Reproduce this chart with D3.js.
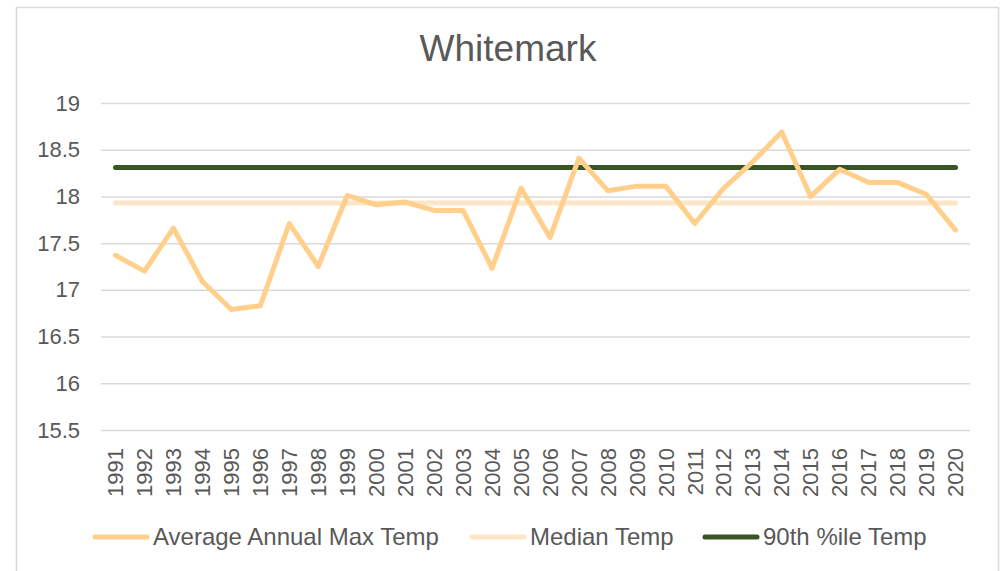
<!DOCTYPE html>
<html>
<head>
<meta charset="utf-8">
<script src="https://cdn.jsdelivr.net/npm/d3@7"></script>
<style>
  body { margin: 0; background: #fff; }
  text { font-family: "Liberation Sans", Arial, sans-serif; fill: #595959; }
</style>
</head>
<body>
<div id="chart"></div>
<script>
const w = 1004, h = 571;

const years = ['1991','1992','1993','1994','1995','1996','1997','1998','1999','2000',
  '2001','2002','2003','2004','2005','2006','2007','2008','2009','2010',
  '2011','2012','2013','2014','2015','2016','2017','2018','2019','2020'];
const avgMax = [17.37, 17.20, 17.66, 17.09, 16.79, 16.83, 17.71, 17.25, 18.01, 17.91,
  17.94, 17.85, 17.85, 17.23, 18.09, 17.56, 18.41, 18.06, 18.11, 18.11,
  17.71, 18.09, 18.37, 18.69, 18.00, 18.29, 18.15, 18.15, 18.02, 17.64];
const medianTemp = 17.93;
const p90Temp = 18.31;
const yTicks = [15.5, 16, 16.5, 17, 17.5, 18, 18.5, 19];

const seriesNames = ['Average Annual Max Temp', 'Median Temp', '90th %ile Temp'];
const colors = ['#ffcf8b', '#fde5c7', '#375623'];

const margin = {left: 101, right: 34, top: 103, bottom: 141};

const svg = d3.select('#chart').append('svg')
  .attr('width', w)
  .attr('height', h);

// chart border
svg.append('rect')
  .attr('x', 16.5).attr('y', 7.5)
  .attr('width', 982).attr('height', 575)
  .attr('fill', 'none')
  .attr('stroke', '#d9d9d9')
  .attr('stroke-width', 1.5);

const x = d3.scaleBand()
  .domain(years)
  .range([margin.left, w - margin.right]);

const y = d3.scaleLinear()
  .domain([15.5, 19])
  .range([h - margin.bottom, margin.top]);

// title
svg.append('text')
  .attr('x', 508)
  .attr('y', 61)
  .attr('text-anchor', 'middle')
  .style('font-size', '37px')
  .text('Whitemark');

// gridlines + y labels
const yAxis = d3.axisLeft(y)
  .tickValues(yTicks)
  .tickSize(-(w - margin.left - margin.right))
  .tickPadding(21)
  .tickFormat(d => d);

const gy = svg.append('g')
  .attr('transform', `translate(${margin.left},0)`)
  .call(yAxis);
gy.select('.domain').remove();
gy.selectAll('.tick line').attr('stroke', '#d9d9d9').attr('stroke-width', 1.5);
gy.selectAll('.tick text')
  .style('font-size', '22px')
  .attr('fill', '#595959');

// x labels
svg.append('g')
  .selectAll('text')
  .data(years)
  .enter()
  .append('text')
  .attr('transform', d => `translate(${x(d) + x.bandwidth() / 2},448) rotate(-90)`)
  .attr('text-anchor', 'end')
  .attr('dy', '0.35em')
  .style('font-size', '22px')
  .text(d => d);

const cx = d => x(d) + x.bandwidth() / 2;

// median line
svg.append('line')
  .attr('x1', cx(years[0])).attr('x2', cx(years[years.length - 1]))
  .attr('y1', y(medianTemp)).attr('y2', y(medianTemp))
  .attr('stroke', colors[1])
  .attr('stroke-width', 5)
  .attr('stroke-linecap', 'round');

// 90th percentile line
svg.append('line')
  .attr('x1', cx(years[0])).attr('x2', cx(years[years.length - 1]))
  .attr('y1', y(p90Temp)).attr('y2', y(p90Temp))
  .attr('stroke', colors[2])
  .attr('stroke-width', 5)
  .attr('stroke-linecap', 'round');

// average annual max line
const line = d3.line()
  .x((d, i) => cx(years[i]))
  .y(d => y(d));

svg.append('path')
  .datum(avgMax)
  .attr('d', line)
  .attr('fill', 'none')
  .attr('stroke', colors[0])
  .attr('stroke-width', 5)
  .attr('stroke-linejoin', 'round')
  .attr('stroke-linecap', 'round');

// legend
const legendX = [93, 470, 703];
const legend = svg.append('g')
  .selectAll('g')
  .data(seriesNames)
  .enter()
  .append('g')
  .attr('transform', (d, i) => `translate(${legendX[i]},537)`);

legend.append('line')
  .attr('x1', 2).attr('x2', 54)
  .attr('stroke', (d, i) => colors[i])
  .attr('stroke-width', 5)
  .attr('stroke-linecap', 'round');

legend.append('text')
  .attr('x', 60)
  .attr('dy', '0.35em')
  .style('font-size', '24px')
  .text(d => d);
</script>
</body>
</html>
